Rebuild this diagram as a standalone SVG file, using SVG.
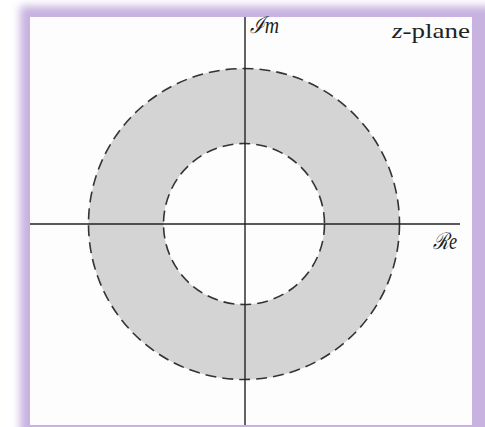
<svg xmlns="http://www.w3.org/2000/svg" width="485" height="427" viewBox="0 0 485 427">
<defs>
<filter id="glow" x="-10%" y="-10%" width="120%" height="120%"><feGaussianBlur stdDeviation="4"/></filter>
<style>
.circ{fill:none;stroke:#333;stroke-width:1.6;stroke-dasharray:11 6}
.axis{stroke:#222;stroke-width:1.4}
.lbl{font-family:"Liberation Serif",serif;font-size:22px;fill:#222}
.sc{font-family:"Liberation Serif",serif;font-style:italic;font-size:23px;fill:#222}
</style>
</defs>
<rect x="20" y="6" width="480" height="440" fill="#c8b2e0" filter="url(#glow)"/>
<rect x="30" y="17" width="442" height="408" fill="#fdfdfd"/>
<g id="annulus">
<path d="M244 68.5 a155.5 155.5 0 1 0 0.01 0 Z M244 143.5 a80.5 80.5 0 1 1 -0.01 0 Z" fill="#d4d4d4" fill-rule="evenodd"/>
<circle class="circ" cx="244" cy="224" r="155.5"/>
<circle class="circ" cx="244" cy="224" r="80.5"/>
</g>
<g id="axes">
<line class="axis" x1="245" y1="17" x2="245" y2="425"/>
<line class="axis" x1="30" y1="224" x2="460" y2="224"/>
</g>
<g id="labels">
<text class="sc" x="250" y="33" textLength="29" lengthAdjust="spacingAndGlyphs">ℐm</text>
<text class="lbl" x="392" y="38" textLength="78" lengthAdjust="spacingAndGlyphs"><tspan font-style="italic">z</tspan>-plane</text>
<text class="sc" x="433" y="249" textLength="24" lengthAdjust="spacingAndGlyphs">ℛe</text>
</g>
</svg>
